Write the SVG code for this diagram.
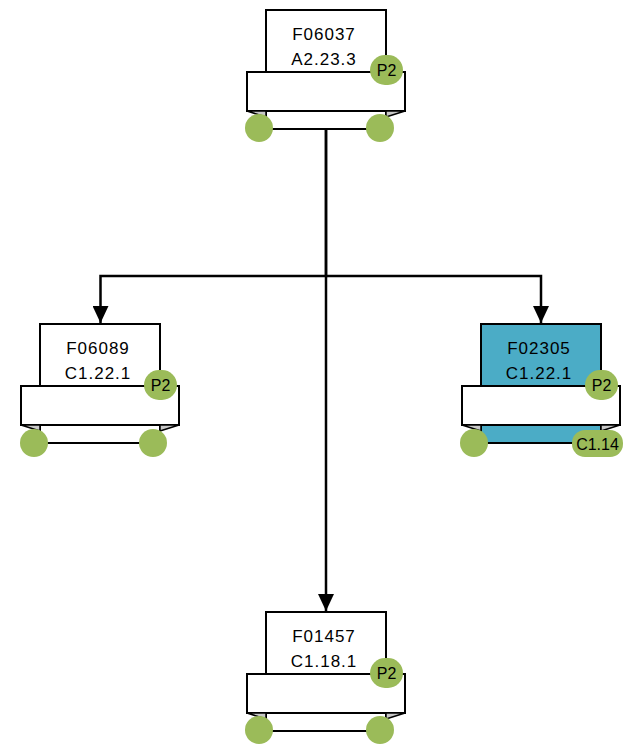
<svg xmlns="http://www.w3.org/2000/svg" width="628" height="744" viewBox="0 0 628 744">
<style>
.main{fill:#ffffff;stroke:#000;stroke-width:2}
.sel{fill:#4BACC6}
.band{fill:#ffffff;stroke:#000;stroke-width:2}
.fold{fill:#C8C8C8;stroke:#000;stroke-width:1.5;stroke-linejoin:round}
.dot{fill:#9BBB59}
.badge{fill:#9BBB59}
.lbl{font-family:"Liberation Sans",Arial,sans-serif;font-size:17px;letter-spacing:1px;fill:#000;text-anchor:middle}
.btxt{font-family:"Liberation Sans",Arial,sans-serif;font-size:16px;fill:#000;text-anchor:middle}
.conn{fill:none;stroke:#000;stroke-width:2.5}
</style>
<defs>
<marker id="arr" markerUnits="userSpaceOnUse" markerWidth="18" markerHeight="16" refX="17" refY="8" orient="auto">
<path d="M0,0 L17,8 L0,16 Z" fill="#000"/>
</marker>
</defs>
<g id="connectors">
<path class="conn" d="M326,129 V276 H100.5 V323" marker-end="url(#arr)"/>
<path class="conn" d="M326,276 H541 V323" marker-end="url(#arr)"/>
<path class="conn" d="M326,129 V611" marker-end="url(#arr)"/>
</g>
<g id="node-F06037" transform="translate(266,10)">
<rect class="main" x="0" y="0" width="120" height="119"/>
<text class="lbl" x="58" y="30">F06037</text>
<text class="lbl" x="58" y="55">A2.23.3</text>
<rect class="band" x="-19" y="62" width="158" height="39"/>
<polygon class="fold" points="-19,101 0,101 0,107"/>
<polygon class="fold" points="139,101 120,101 120,107"/>
<circle class="dot" cx="-7" cy="118" r="14"/>
<circle class="dot" cx="114" cy="118" r="14"/>
<rect class="badge" x="104" y="45" width="33" height="30" rx="15"/>
<text class="btxt" x="120.5" y="66">P2</text>
</g>
<g id="node-F06089" transform="translate(40,324)">
<rect class="main" x="0" y="0" width="120" height="119"/>
<text class="lbl" x="58" y="30">F06089</text>
<text class="lbl" x="58" y="55">C1.22.1</text>
<rect class="band" x="-19" y="62" width="158" height="39"/>
<polygon class="fold" points="-19,101 0,101 0,107"/>
<polygon class="fold" points="139,101 120,101 120,107"/>
<circle class="dot" cx="-6" cy="119" r="14"/>
<circle class="dot" cx="113" cy="119" r="14"/>
<rect class="badge" x="104" y="46" width="33" height="30" rx="15"/>
<text class="btxt" x="120.5" y="67">P2</text>
</g>
<g id="node-F02305" transform="translate(481,324)">
<rect class="main sel" x="0" y="0" width="120" height="119"/>
<text class="lbl" x="58" y="30">F02305</text>
<text class="lbl" x="58" y="55">C1.22.1</text>
<rect class="band" x="-19" y="62" width="158" height="39"/>
<polygon class="fold" points="-19,101 0,101 0,107"/>
<polygon class="fold" points="139,101 120,101 120,107"/>
<circle class="dot" cx="-7" cy="119" r="14"/>
<rect class="badge" x="104" y="46" width="33" height="30" rx="15"/>
<text class="btxt" x="120.5" y="67">P2</text>
<rect class="badge" x="91" y="106" width="51" height="27" rx="13"/>
<text class="btxt" x="116.5" y="125.5">C1.14</text>
</g>
<g id="node-F01457" transform="translate(266,612)">
<rect class="main" x="0" y="0" width="120" height="119"/>
<text class="lbl" x="58" y="30">F01457</text>
<text class="lbl" x="58" y="55">C1.18.1</text>
<rect class="band" x="-19" y="62" width="158" height="39"/>
<polygon class="fold" points="-19,101 0,101 0,107"/>
<polygon class="fold" points="139,101 120,101 120,107"/>
<circle class="dot" cx="-7" cy="118" r="14"/>
<circle class="dot" cx="114" cy="118" r="14"/>
<rect class="badge" x="104" y="46" width="33" height="30" rx="15"/>
<text class="btxt" x="120.5" y="67">P2</text>
</g>
</svg>
